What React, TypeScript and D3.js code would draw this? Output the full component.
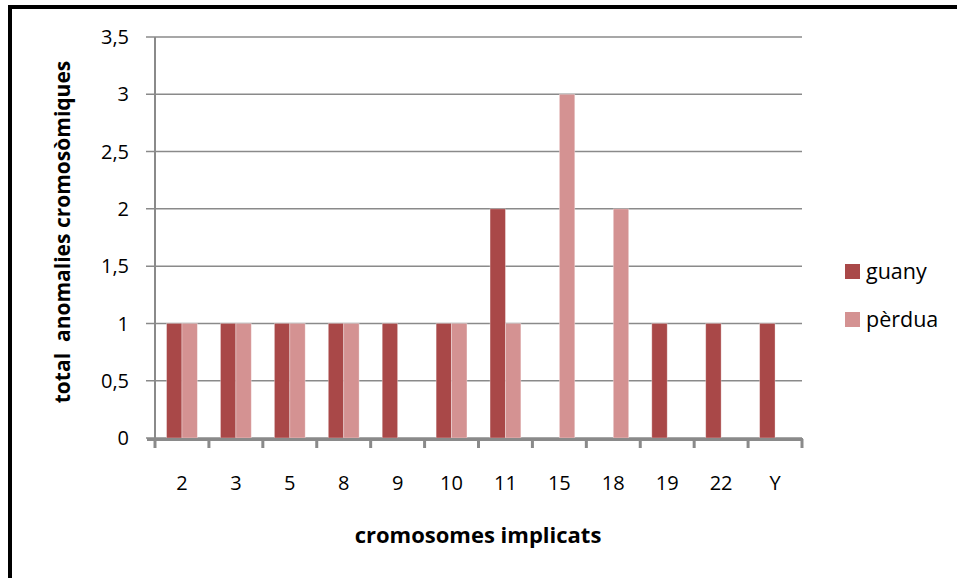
import React from "react";
import * as d3 from "d3";

const categories = ["2", "3", "5", "8", "9", "10", "11", "15", "18", "19", "22", "Y"];
const guany = [1, 1, 1, 1, 1, 1, 2, 0, 0, 1, 1, 1];
const perdua = [1, 1, 1, 1, 0, 1, 1, 3, 2, 0, 0, 0];
const seriesNames = ["guany", "pèrdua"];
const seriesColors = ["#A94848", "#D49292"];
const yTicks = [0, 0.5, 1, 1.5, 2, 2.5, 3, 3.5];

const W = 957;
const H = 578;
const plot = { left: 155, right: 802, top: 37, bottom: 438 };
const FONT = "'Open Sans', 'Noto Sans', sans-serif";

export default function App() {
  const x = d3
    .scaleBand<string>()
    .domain(categories)
    .range([plot.left, plot.right])
    .paddingInner(0)
    .paddingOuter(0);
  const y = d3.scaleLinear().domain([0, 3.5]).range([plot.bottom, plot.top]);
  const bw = x.bandwidth() / 3.5; // gap width 150%
  const fmt = (v: number) => String(v).replace(".", ",");
  const series = [guany, perdua];
  const boundaries = d3.range(categories.length + 1).map((i) => plot.left + i * x.bandwidth());

  return (
    <svg
      width={W}
      height={H}
      style={{ position: "absolute", left: 0, top: 0, background: "#fff" }}
      fontFamily={FONT}
    >
      <rect x={0} y={0} width={W} height={H} fill="#fff" />
      {/* frame */}
      <line x1={10} y1={5} x2={10} y2={H} stroke="#000" strokeWidth={4} />
      <line x1={8} y1={7} x2={W} y2={7} stroke="#000" strokeWidth={4} />

      {/* gridlines */}
      {yTicks.map((t) => (
        <line
          key={"g" + t}
          x1={146}
          x2={plot.right}
          y1={y(t)}
          y2={y(t)}
          stroke="#8a8a8a"
          strokeWidth={1.5}
        />
      ))}
      {/* y tick labels */}
      {yTicks.map((t) => (
        <text
          key={"yl" + t}
          x={129}
          y={y(t)}
          dy="0.36em"
          textAnchor="end"
          fontSize={20}
          fill="#000"
        >
          {fmt(t)}
        </text>
      ))}

      {/* bars */}
      {categories.map((c, i) =>
        series.map((s, j) =>
          s[i] > 0 ? (
            <rect
              key={c + "-" + j}
              x={(x(c) as number) + 0.75 * bw + j * bw}
              y={y(s[i])}
              width={bw}
              height={y(0) - y(s[i])}
              fill={seriesColors[j]}
              stroke="#ffffff"
              strokeOpacity={0.4}
              strokeWidth={0.8}
            />
          ) : null
        )
      )}

      {/* y axis */}
      <line x1={plot.left} x2={plot.left} y1={plot.top} y2={plot.bottom} stroke="#8a8a8a" strokeWidth={2} />
      {/* x axis */}
      <line x1={147} x2={plot.right + 1} y1={439.5} y2={439.5} stroke="#8a8a8a" strokeWidth={3} />
      {boundaries.map((b, i) => (
        <line key={"t" + i} x1={b} x2={b} y1={439} y2={448} stroke="#8a8a8a" strokeWidth={3} />
      ))}
      {/* x tick labels */}
      {categories.map((c) => (
        <text
          key={"xl" + c}
          x={(x(c) as number) + x.bandwidth() / 2}
          y={483}
          dy="0.36em"
          textAnchor="middle"
          fontSize={20}
          fill="#000"
        >
          {c}
        </text>
      ))}

      {/* axis titles */}
      <text x={478} y={535} dy="0.36em" textAnchor="middle" fontSize={22} fontWeight="bold" fill="#000">
        cromosomes implicats
      </text>
      <text
        transform={`translate(62,232) rotate(-90)`}
        dy="0.36em"
        textAnchor="middle"
        fontSize={21}
        fontWeight="bold"
        fill="#000"
        style={{ whiteSpace: "pre" }}
      >
        {"total  anomalies cromosòmiques"}
      </text>

      {/* legend */}
      {seriesNames.map((n, j) => (
        <g key={n} transform={`translate(845,${264 + j * 48})`}>
          <rect x={0} y={0} width={15} height={15} fill={seriesColors[j]} />
          <text x={21} y={7.5} dy="0.36em" fontSize={21.5} fill="#000">
            {n}
          </text>
        </g>
      ))}
    </svg>
  );
}
